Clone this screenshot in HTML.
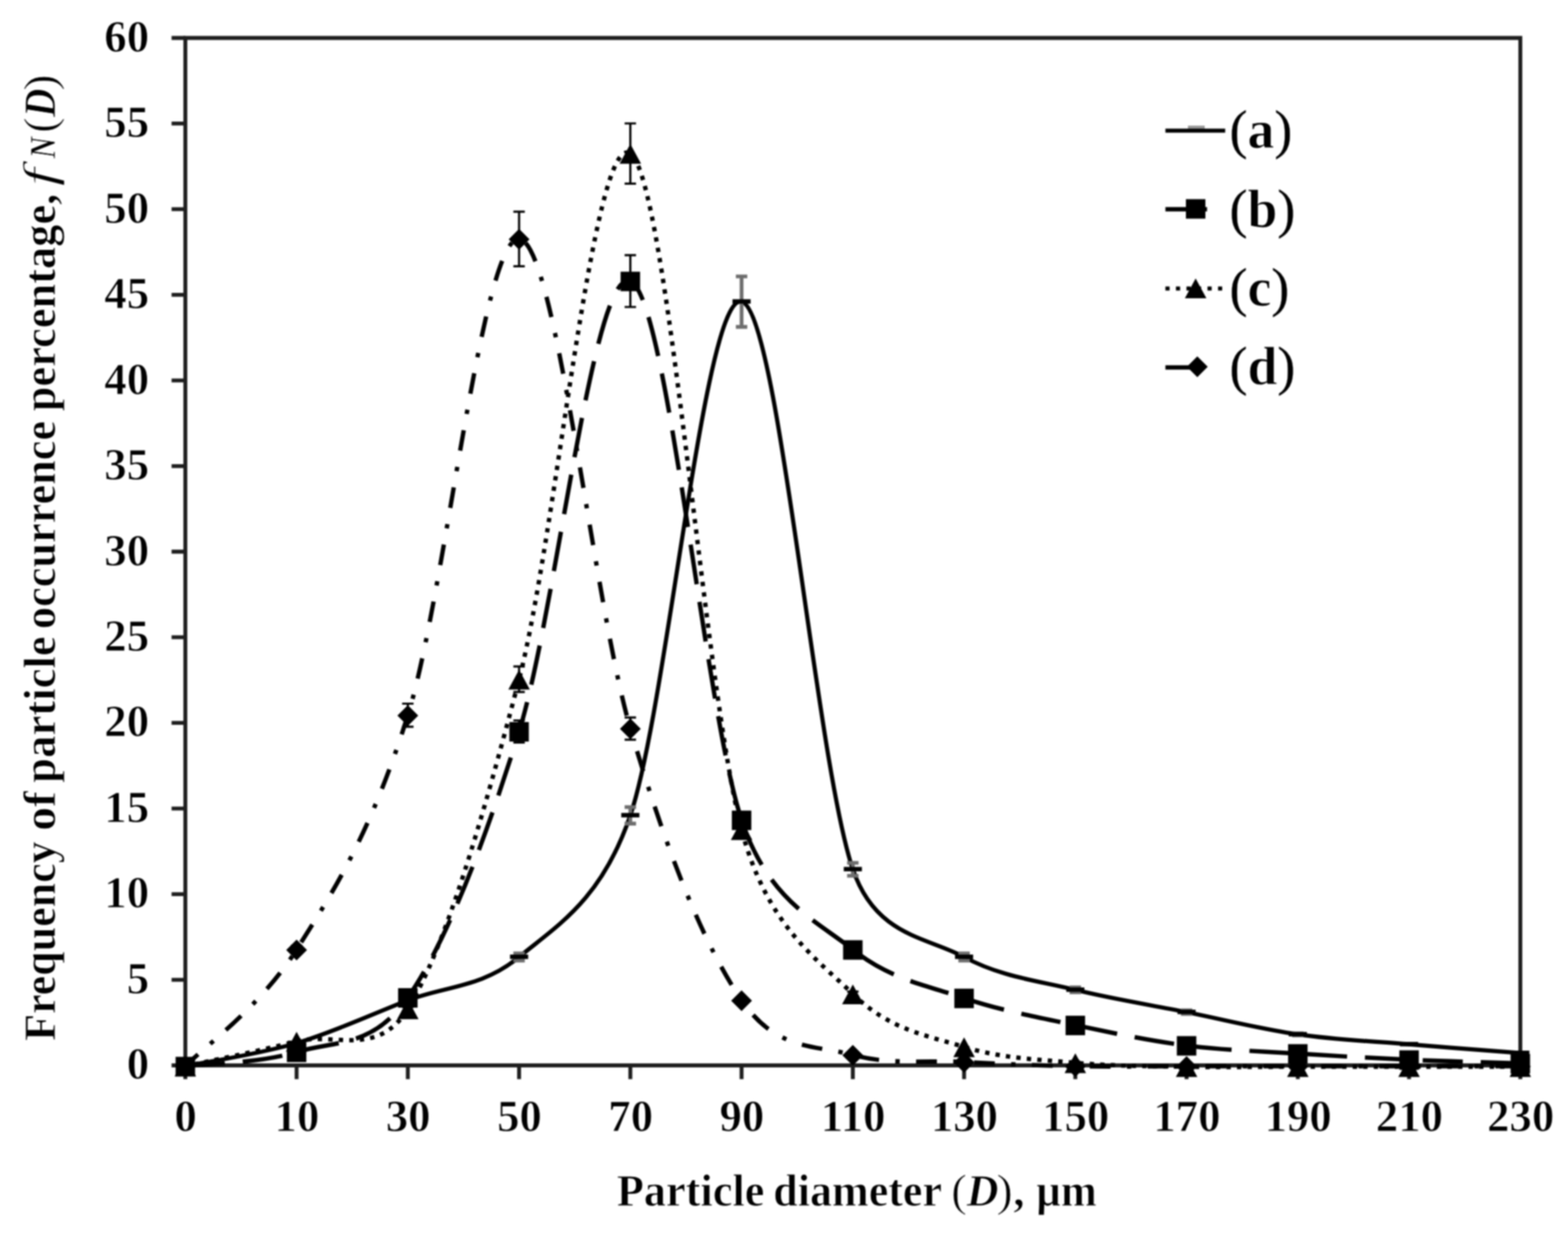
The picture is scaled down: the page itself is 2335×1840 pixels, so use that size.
<!DOCTYPE html>
<html lang="en"><head><meta charset="utf-8"><title>Particle size distribution</title>
<style>html,body{margin:0;padding:0;background:#fff;}body{width:2335px;height:1840px;overflow:hidden;}svg{display:block;filter:blur(0.9px);}text{font-family:'Liberation Serif', serif;font-weight:bold;fill:#000;stroke:#fff;stroke-width:1px;}.it{font-style:italic;font-weight:normal;}.rg{font-weight:normal;}.pn{font-weight:normal;stroke:#000;stroke-width:0.3px;}.bi{font-style:italic;font-weight:bold;}</style>
</head><body>
<svg width="2335" height="1840" viewBox="0 0 2335 1840" role="img" aria-label="Frequency of particle occurrence percentage versus particle diameter">
<rect x="0" y="0" width="2335" height="1840" fill="#fff"/>
<g fill="none" stroke="#1e1e1e" stroke-width="5.8" stroke-linecap="butt">
<path d="M276 56.5 H2264 V1586 H276 Z"/>
<path d="M255.5 1586H276M255.5 1458.54H276M255.5 1331.08H276M255.5 1203.62H276M255.5 1076.17H276M255.5 948.71H276M255.5 821.25H276M255.5 693.79H276M255.5 566.33H276M255.5 438.88H276M255.5 311.42H276M255.5 183.96H276M255.5 56.5H276"/>
<path d="M276 1586V1606.5M441.67 1586V1606.5M607.33 1586V1606.5M773 1586V1606.5M938.67 1586V1606.5M1104.33 1586V1606.5M1270 1586V1606.5M1435.67 1586V1606.5M1601.33 1586V1606.5M1767 1586V1606.5M1932.67 1586V1606.5M2098.33 1586V1606.5M2264 1586V1606.5"/>
</g>
<g font-size="66.67">
<text x="222" y="1606.3" text-anchor="end">0</text>
<text x="222" y="1478.84" text-anchor="end">5</text>
<text x="222" y="1351.38" text-anchor="end">10</text>
<text x="222" y="1223.92" text-anchor="end">15</text>
<text x="222" y="1096.47" text-anchor="end">20</text>
<text x="222" y="969.01" text-anchor="end">25</text>
<text x="222" y="841.55" text-anchor="end">30</text>
<text x="222" y="714.09" text-anchor="end">35</text>
<text x="222" y="586.63" text-anchor="end">40</text>
<text x="222" y="459.18" text-anchor="end">45</text>
<text x="222" y="331.72" text-anchor="end">50</text>
<text x="222" y="204.26" text-anchor="end">55</text>
<text x="222" y="76.8" text-anchor="end">60</text>
<text x="276.5" y="1684" text-anchor="middle">0</text>
<text x="442.17" y="1684" text-anchor="middle">10</text>
<text x="607.83" y="1684" text-anchor="middle">30</text>
<text x="773.5" y="1684" text-anchor="middle">50</text>
<text x="939.17" y="1684" text-anchor="middle">70</text>
<text x="1104.83" y="1684" text-anchor="middle">90</text>
<text x="1270.5" y="1684" text-anchor="middle">110</text>
<text x="1436.17" y="1684" text-anchor="middle">130</text>
<text x="1601.83" y="1684" text-anchor="middle">150</text>
<text x="1767.5" y="1684" text-anchor="middle">170</text>
<text x="1933.17" y="1684" text-anchor="middle">190</text>
<text x="2098.83" y="1684" text-anchor="middle">210</text>
<text x="2264.5" y="1684" text-anchor="middle">230</text>
</g>
<text y="1795" font-size="66.67"><tspan x="918.4" textLength="220" lengthAdjust="spacingAndGlyphs">Particle</tspan> <tspan x="1151.6" textLength="250" lengthAdjust="spacingAndGlyphs">diameter</tspan> <tspan class="rg" x="1416.4" textLength="23.5" lengthAdjust="spacingAndGlyphs">(</tspan><tspan class="bi" x="1439.6" textLength="47.4" lengthAdjust="spacingAndGlyphs">D</tspan><tspan class="rg" x="1483.7" textLength="24.5" lengthAdjust="spacingAndGlyphs">)</tspan><tspan x="1509">,</tspan> <tspan x="1543.1" textLength="90" lengthAdjust="spacingAndGlyphs">µm</tspan></text>
<text transform="translate(82 0) rotate(-90)" y="0" font-size="66.67"><tspan x="-1549.6" textLength="297.1" lengthAdjust="spacingAndGlyphs">Frequency</tspan> <tspan x="-1236.8" textLength="58.9" lengthAdjust="spacingAndGlyphs">of</tspan> <tspan x="-1165.4" textLength="218.3" lengthAdjust="spacingAndGlyphs">particle</tspan> <tspan x="-936.5" textLength="309.9" lengthAdjust="spacingAndGlyphs">occurrence</tspan> <tspan x="-612.2" textLength="323.7" lengthAdjust="spacingAndGlyphs">percentage,</tspan> <tspan x="-277.2" textLength="27.1" lengthAdjust="spacingAndGlyphs" class="it">f</tspan><tspan x="-235.8" textLength="32.3" lengthAdjust="spacingAndGlyphs" class="bi" font-size="54">N</tspan><tspan x="-197.8" textLength="23" lengthAdjust="spacingAndGlyphs" class="rg">(</tspan><tspan x="-174.3" textLength="42.4" lengthAdjust="spacingAndGlyphs" class="bi">D</tspan><tspan x="-135.2" textLength="24.6" lengthAdjust="spacingAndGlyphs" class="rg">)</tspan></text>
<g id="series-a">
<path d="M276 1587.27 C303.61 1581.54 386.44 1569.22 441.67 1552.86 C496.89 1536.5 552.11 1510.5 607.33 1489.13 C662.56 1467.76 717.78 1470.52 773 1424.64 C828.22 1378.75 895.55 1340.76 938.67 1213.82 C993.89 1051.23 1049.11 435.69 1104.33 449.07 C1159.56 462.45 1214.78 1131.53 1270 1294.12 C1303.91 1393.97 1380.44 1394.73 1435.67 1424.64 C1490.89 1454.55 1546.11 1459.9 1601.33 1473.58 C1656.56 1487.26 1711.78 1495.67 1767 1506.72 C1822.22 1517.77 1877.44 1531.87 1932.67 1539.86 C1987.89 1547.85 2043.11 1550.01 2098.33 1554.65 C2153.56 1559.28 2236.39 1565.48 2264 1567.65" fill="none" stroke="#000" stroke-width="6.2"/>
<path d="M607.33 1485.94V1492.33M598.83 1485.94H615.83M598.83 1492.33H615.83M773 1419.31V1429.96M764.5 1419.31H781.5M764.5 1429.96H781.5M938.67 1201.54V1226.1M930.17 1201.54H947.17M930.17 1226.1H947.17M1104.33 411.55V486.59M1095.83 411.55H1112.83M1095.83 486.59H1112.83M1270 1284.49V1303.75M1261.5 1284.49H1278.5M1261.5 1303.75H1278.5M1435.67 1419.31V1429.96M1427.17 1419.31H1444.17M1427.17 1429.96H1444.17M1601.33 1469.87V1477.29M1592.83 1469.87H1609.83M1592.83 1477.29H1609.83M1767 1504.1V1509.34M1758.5 1504.1H1775.5M1758.5 1509.34H1775.5M1932.67 1538.34V1541.38M1924.17 1538.34H1941.17M1924.17 1541.38H1941.17" fill="none" stroke="#6e6e6e" stroke-width="5.6"/>
<g fill="#000"><rect x="262.5" y="1583.67" width="27" height="6.6"/><rect x="428.17" y="1549.26" width="27" height="6.6"/><rect x="593.83" y="1485.53" width="27" height="6.6"/><rect x="759.5" y="1421.04" width="27" height="6.6"/><rect x="925.17" y="1210.22" width="27" height="6.6"/><rect x="1090.83" y="445.47" width="27" height="6.6"/><rect x="1256.5" y="1290.52" width="27" height="6.6"/><rect x="1422.17" y="1421.04" width="27" height="6.6"/><rect x="1587.83" y="1469.98" width="27" height="6.6"/><rect x="1753.5" y="1503.12" width="27" height="6.6"/><rect x="1919.17" y="1536.26" width="27" height="6.6"/><rect x="2084.83" y="1551.05" width="27" height="6.6"/><rect x="2250.5" y="1564.05" width="27" height="6.6"/></g>
</g>
<g id="series-b">
<path d="M276 1587.27 C303.61 1583.75 386.44 1583.15 441.67 1566.12 C496.89 1549.08 554.74 1560.8 607.33 1485.05 C662.56 1405.52 717.78 1266.67 773 1088.91 C828.22 911.15 883.44 396.52 938.67 418.48 C993.89 440.45 1049.11 1054.84 1104.33 1220.7 C1144.5 1341.36 1214.78 1369.49 1270 1413.68 C1325.22 1457.86 1380.44 1467.08 1435.67 1485.82 C1490.89 1504.55 1546.11 1514.33 1601.33 1526.09 C1656.56 1537.86 1711.78 1549.38 1767 1556.43 C1822.22 1563.48 1877.44 1564.88 1932.67 1568.41 C1987.89 1571.94 2043.11 1575.17 2098.33 1577.59 C2153.56 1580.01 2236.39 1582.05 2264 1582.94" fill="none" stroke="#000" stroke-width="6.5" stroke-dasharray="59.5 26.65" stroke-dashoffset="0.3"/>
<path d="M607.33 1481.72V1488.38M598.83 1481.72H615.83M598.83 1488.38H615.83M773 1072.51V1105.32M764.5 1072.51H781.5M764.5 1105.32H781.5M938.67 379.95V457.01M930.17 379.95H947.17M930.17 457.01H947.17M1104.33 1208.65V1232.76M1095.83 1208.65H1112.83M1095.83 1232.76H1112.83M1270 1407.99V1419.36M1261.5 1407.99H1278.5M1261.5 1419.36H1278.5M1435.67 1482.51V1489.12M1427.17 1482.51H1444.17M1427.17 1489.12H1444.17M1601.33 1524.12V1528.07M1592.83 1524.12H1609.83M1592.83 1528.07H1609.83" fill="none" stroke="#000" stroke-width="3.2"/>
<g fill="#000"><rect x="261.5" y="1573.27" width="29" height="29"/><rect x="427.17" y="1552.12" width="29" height="29"/><rect x="592.83" y="1471.05" width="29" height="29"/><rect x="758.5" y="1074.91" width="29" height="29"/><rect x="924.17" y="404.48" width="29" height="29"/><rect x="1089.83" y="1206.7" width="29" height="29"/><rect x="1255.5" y="1399.68" width="29" height="29"/><rect x="1421.17" y="1471.82" width="29" height="29"/><rect x="1586.83" y="1512.09" width="29" height="29"/><rect x="1752.5" y="1542.43" width="29" height="29"/><rect x="1918.17" y="1554.41" width="29" height="29"/><rect x="2083.83" y="1563.59" width="29" height="29"/><rect x="2249.5" y="1568.94" width="29" height="29"/></g>
</g>
<g id="series-c">
<path d="M276 1587.27 C303.61 1581.11 386.44 1564.54 441.67 1550.31 C496.89 1536.08 562.15 1575.4 607.33 1501.88 C662.56 1412.02 717.78 1223.38 773 1011.16 C828.22 798.94 883.44 191.22 938.67 228.57 C993.89 265.91 1049.11 1026.71 1104.33 1235.23 C1142.13 1377.97 1214.78 1425.83 1270 1479.7 C1325.22 1533.57 1380.44 1541.39 1435.67 1558.47 C1490.89 1575.55 1546.11 1577.25 1601.33 1582.18 C1656.56 1587.1 1711.78 1587.06 1767 1588.04 C1822.22 1589.02 1877.44 1588.04 1932.67 1588.04 C1987.89 1588.04 2043.11 1588.04 2098.33 1588.04 C2153.56 1588.04 2236.39 1588.04 2264 1588.04" fill="none" stroke="#000" stroke-width="6.5" stroke-dasharray="6.5 9.17" stroke-dashoffset="2.25"/>
<path d="M607.33 1499.1V1504.65M598.83 1499.1H615.83M598.83 1504.65H615.83M773 992.19V1030.13M764.5 992.19H781.5M764.5 1030.13H781.5M938.67 183.77V273.36M930.17 183.77H947.17M930.17 273.36H947.17M1104.33 1223.66V1246.81M1095.83 1223.66H1112.83M1095.83 1246.81H1112.83M1270 1476.19V1483.21M1261.5 1476.19H1278.5M1261.5 1483.21H1278.5" fill="none" stroke="#000" stroke-width="3.2"/>
<g fill="#000"><path d="M276 1573.07L292 1602.57L260 1602.57Z"/><path d="M441.67 1536.11L457.67 1565.61L425.67 1565.61Z"/><path d="M607.33 1487.68L623.33 1517.18L591.33 1517.18Z"/><path d="M773 996.96L789 1026.46L757 1026.46Z"/><path d="M938.67 214.37L954.67 243.87L922.67 243.87Z"/><path d="M1104.33 1221.03L1120.33 1250.53L1088.33 1250.53Z"/><path d="M1270 1465.5L1286 1495L1254 1495Z"/><path d="M1435.67 1544.27L1451.67 1573.77L1419.67 1573.77Z"/><path d="M1601.33 1567.98L1617.33 1597.48L1585.33 1597.48Z"/><path d="M1767 1573.84L1783 1603.34L1751 1603.34Z"/><path d="M1932.67 1573.84L1948.67 1603.34L1916.67 1603.34Z"/><path d="M2098.33 1573.84L2114.33 1603.34L2082.33 1603.34Z"/><path d="M2264 1573.84L2280 1603.34L2248 1603.34Z"/></g>
</g>
<g id="series-d">
<path d="M276 1587.27 C303.61 1558.34 386.44 1500.77 441.67 1413.68 C496.89 1326.58 552.11 1241.01 607.33 1064.7 C662.56 888.38 717.78 352.46 773 355.77 C828.22 359.09 883.44 895.69 938.67 1084.58 C993.89 1273.47 1049.11 1408.15 1104.33 1489.13 C1156.32 1565.37 1214.78 1555.16 1270 1570.45 C1325.22 1585.75 1380.44 1578.1 1435.67 1580.9 C1490.89 1583.71 1546.11 1586.21 1601.33 1587.27 C1656.56 1588.34 1711.78 1587.27 1767 1587.27 C1822.22 1587.27 1877.44 1587.27 1932.67 1587.27 C1987.89 1587.27 2043.11 1587.27 2098.33 1587.27 C2153.56 1587.27 2236.39 1587.27 2264 1587.27" fill="none" stroke="#000" stroke-width="6.5" stroke-dasharray="31 24.37 6.5 24.38" stroke-dashoffset="5"/>
<path d="M441.67 1407.99V1419.36M433.17 1407.99H450.17M433.17 1419.36H450.17M607.33 1047.49V1081.9M598.83 1047.49H615.83M598.83 1081.9H615.83M773 315.17V396.37M764.5 315.17H781.5M764.5 396.37H781.5M938.67 1068.03V1101.13M930.17 1068.03H947.17M930.17 1101.13H947.17M1104.33 1485.94V1492.33M1095.83 1485.94H1112.83M1095.83 1492.33H1112.83" fill="none" stroke="#000" stroke-width="3.2"/>
<g fill="#000"><path d="M276 1572.27L291.5 1587.77L276 1603.27L260.5 1587.77Z"/><path d="M441.67 1398.68L457.17 1414.18L441.67 1429.68L426.17 1414.18Z"/><path d="M607.33 1049.7L622.83 1065.2L607.33 1080.7L591.83 1065.2Z"/><path d="M773 340.77L788.5 356.27L773 371.77L757.5 356.27Z"/><path d="M938.67 1069.58L954.17 1085.08L938.67 1100.58L923.17 1085.08Z"/><path d="M1104.33 1474.13L1119.83 1489.63L1104.33 1505.13L1088.83 1489.63Z"/><path d="M1270 1555.45L1285.5 1570.95L1270 1586.45L1254.5 1570.95Z"/><path d="M1435.67 1565.9L1451.17 1581.4L1435.67 1596.9L1420.17 1581.4Z"/><path d="M1601.33 1572.27L1616.83 1587.77L1601.33 1603.27L1585.83 1587.77Z"/><path d="M1767 1572.27L1782.5 1587.77L1767 1603.27L1751.5 1587.77Z"/><path d="M1932.67 1572.27L1948.17 1587.77L1932.67 1603.27L1917.17 1587.77Z"/><path d="M2098.33 1572.27L2113.83 1587.77L2098.33 1603.27L2082.83 1587.77Z"/><path d="M2264 1572.27L2279.5 1587.77L2264 1603.27L2248.5 1587.77Z"/></g>
</g>
<g id="legend">
<rect x="1769" y="187" width="25" height="5" fill="#9a9a9a"/>
<path d="M1735.5 194.5H1824.5" stroke="#000" stroke-width="6.1" fill="none"/>
<path d="M1735.5 311.5H1797.5" stroke="#000" stroke-width="6.3" fill="none"/>
<g fill="#000"><rect x="1766" y="296.5" width="29" height="29"/></g>
<path d="M1735.5 429.5H1821.5" stroke="#000" stroke-width="6" fill="none" stroke-dasharray="6.2 9.47"/>
<g fill="#000"><path d="M1780.5 414.5L1796.5 444L1764.5 444Z"/></g>
<path d="M1735.5 547H1790" stroke="#000" stroke-width="6.3" fill="none"/>
<g fill="#000"><path d="M1783 530.5L1798.5 546L1783 561.5L1767.5 546Z"/></g>
<g font-size="80">
<text x="1831" y="219.5"><tspan class="pn">(</tspan>a<tspan class="pn">)</tspan></text>
<text x="1831" y="337.5"><tspan class="pn">(</tspan>b<tspan class="pn">)</tspan></text>
<text x="1831" y="454.5"><tspan class="pn">(</tspan>c<tspan class="pn">)</tspan></text>
<text x="1831" y="572"><tspan class="pn">(</tspan>d<tspan class="pn">)</tspan></text>
</g></g>
</svg></body></html>
